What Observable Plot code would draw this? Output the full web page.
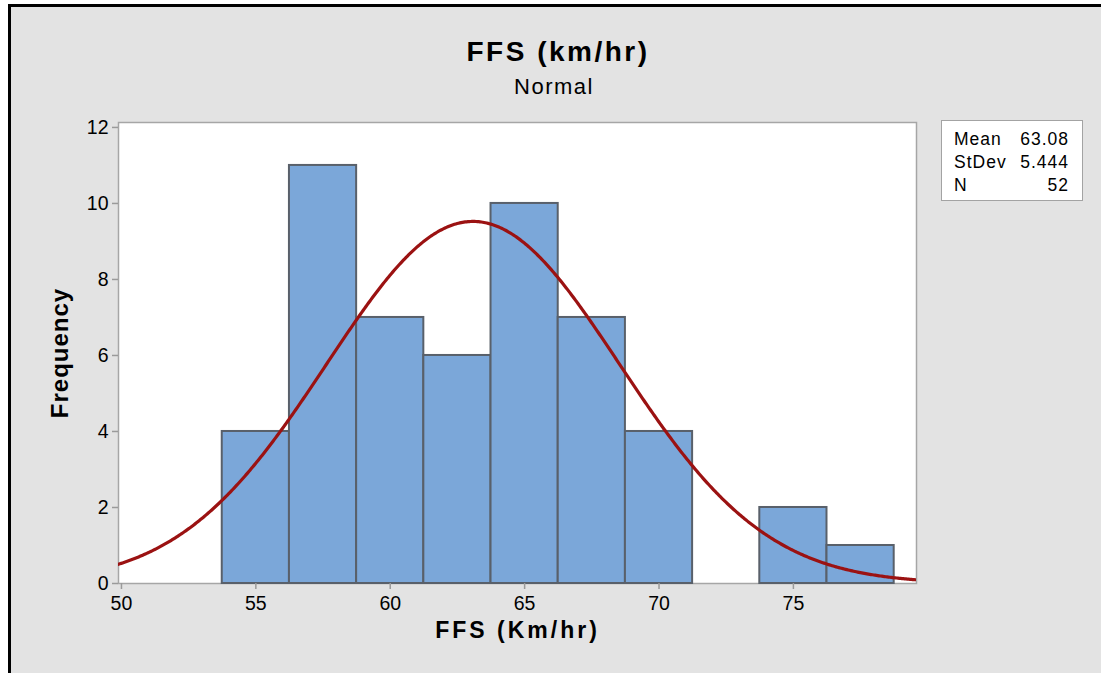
<!DOCTYPE html>
<html>
<head>
<meta charset="utf-8">
<script src="https://cdn.jsdelivr.net/npm/d3@7"></script>
<script src="https://cdn.jsdelivr.net/npm/@observablehq/plot@0.6"></script>
<style>
  html, body { margin: 0; padding: 0; background: #fff; }
  #page { position: relative; width: 1101px; height: 673px; overflow: hidden; font-family: "Liberation Sans", Arial, sans-serif; }
  #panel { position: absolute; left: 8px; top: 4px; right: 0; bottom: 0; background: #e3e3e3; border-left: 3px solid #000; border-top: 3px solid #000; }
  #chart { position: absolute; left: 0; top: 0; }
  .title { position: absolute; left: 358px; width: 400px; text-align: center; font-weight: bold; font-size: 28px; line-height: 28px; top: 38px; letter-spacing: 2.5px; color: #000; }
  .subtitle { position: absolute; left: 354px; width: 400px; text-align: center; font-size: 22px; line-height: 22px; top: 76px; letter-spacing: 1.5px; color: #000; }
  #stats { position: absolute; left: 941px; top: 120px; background: #fff; border: 1.5px solid #a3a3a3; font-size: 17.5px; line-height: 23px; letter-spacing: 1px; color: #000; padding-top: 7px; box-sizing: border-box; height: 81px; width: 142px; }
  #stats .row { display: flex; justify-content: space-between; padding: 0 13px 0 12px; }
</style>
</head>
<body>
<div id="page">
  <div id="panel"></div>
  <div id="chart"></div>
  <div class="title">FFS (km/hr)</div>
  <div class="subtitle">Normal</div>
  <div id="stats"></div>
</div>
<script>
// Histogram bins (left edges) and frequencies
const binStarts = [53.75, 56.25, 58.75, 61.25, 63.75, 66.25, 68.75, 71.25, 73.75, 76.25];
const counts = [4, 11, 7, 6, 10, 7, 4, 0, 2, 1];
const binWidth = 2.5;

// Fitted normal parameters
const mean = 63.08;
const stdev = 5.444;
const n = 52;

const xTicks = [50, 55, 60, 65, 70, 75];
const yTicks = [0, 2, 4, 6, 8, 10, 12];
const xDomain = [49.89, 79.58];
const yDomain = [0, 12.13];

const bins = binStarts
  .map((x1, i) => ({x1, x2: x1 + binWidth, count: counts[i]}))
  .filter(d => d.count > 0);

// Normal density scaled to frequency per bin
const fit = d3.range(xDomain[0], xDomain[1] + 0.001, 0.05).map(x => ({
  x,
  y: n * binWidth * Math.exp(-0.5 * ((x - mean) / stdev) ** 2) / (stdev * Math.sqrt(2 * Math.PI))
}));

const chart = Plot.plot({
  width: 1101,
  height: 673,
  marginLeft: 118,
  marginRight: 185,
  marginTop: 122,
  marginBottom: 90,
  x: {domain: xDomain},
  y: {domain: yDomain},
  style: {background: "transparent", fontFamily: "'Liberation Sans', Arial, sans-serif", color: "#000", overflow: "visible"},
  marks: [
    Plot.frame({fill: "#fff", stroke: "#a6a6a6", strokeWidth: 1.5}),
    Plot.rect(bins, {x1: "x1", x2: "x2", y1: 0, y2: "count", fill: "#7ba7d9", stroke: "#59606a", strokeWidth: 2}),
    Plot.line(fit, {x: "x", y: "y", stroke: "#9b1212", strokeWidth: 3.2, clip: true}),
    Plot.axisX({ticks: xTicks, tickSize: 6, tickPadding: 7, fontSize: 19.5, stroke: "#9a9a9a", strokeWidth: 1.5, label: null, fill: "#000"}),
    Plot.axisY({ticks: yTicks, tickSize: 6, tickPadding: 4, fontSize: 19.5, stroke: "#9a9a9a", strokeWidth: 1.5, label: null, fill: "#000"}),
    Plot.text(["FFS (Km/hr)"], {frameAnchor: "bottom", dy: 54, fontSize: 23, fontWeight: "bold", fill: "#000", textAnchor: "middle"}),
    Plot.text(["Frequency"], {frameAnchor: "left", dx: -58, rotate: -90, textAnchor: "middle", fontSize: 24, fontWeight: "bold", fill: "#000"})
  ]
});

// Wider tracking on the axis titles
d3.select(chart).selectAll("text").each(function() {
  const t = this.textContent;
  if (t === "FFS (Km/hr)") this.style.letterSpacing = "3px";
  if (t === "Frequency") this.style.letterSpacing = "1px";
});
document.getElementById("chart").appendChild(chart);

// Summary statistics box
const statRows = [["Mean", mean.toFixed(2)], ["StDev", stdev.toFixed(3)], ["N", String(n)]];
const stats = document.getElementById("stats");
for (const [label, value] of statRows) {
  const row = document.createElement("div");
  row.className = "row";
  row.innerHTML = `<span>${label}</span><span>${value}</span>`;
  stats.appendChild(row);
}
</script>
</body>
</html>
